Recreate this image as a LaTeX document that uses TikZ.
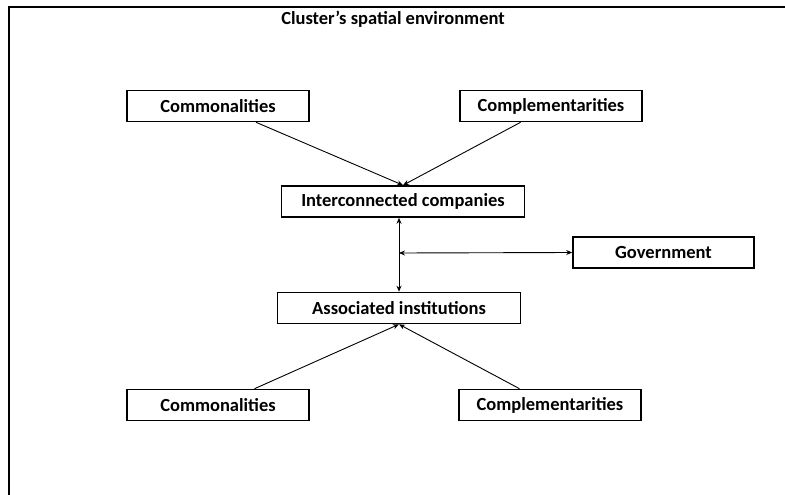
\documentclass[tikz,border=0pt]{standalone}
\usepackage{fontspec}
\setmainfont{Carlito}
\usetikzlibrary{arrows.meta, positioning}
\tikzset{
	factor/.style   ={rectangle, draw=black, line width=1.6pt, minimum width=182pt, minimum height=31pt, inner sep=0pt, align=center, font=\fontsize{18.5}{22}\selectfont\bfseries},
	actor/.style    ={factor, minimum width=243pt},
	link/.style     ={-{Stealth[length=6pt, width=5pt]}, line width=0.9pt},
	twoway/.style   ={{Stealth[length=6pt, width=5pt]}-{Stealth[length=6pt, width=5pt]}, line width=0.9pt},
}

\begin{document}
\begin{tikzpicture}[x=1pt, y=-1pt, font=\fontsize{18.5}{22}\selectfont]
	\useasboundingbox (0,0) rectangle (785,495);
	% frame of the spatial environment
	\draw[line width=2pt] (9,496) |- (786,7);
	\node (title) at (393,19) {\bfseries Cluster’s spatial environment};
	% upper factors
	\node[factor] (comTop) at (218,106) {Commonalities};
	\node[factor] (cmpTop) at (551,106) {Complementarities};
	% core of the cluster
	\node[actor] (ic) at (403,201.5) {Interconnected companies};
	\node[actor] (ai) at (399,308) {Associated institutions};
	\node[factor, minimum width=181pt] (gov) at (663.5,252.5) {Government};
	% lower factors
	\node[factor] (comBot) at (218,405) {Commonalities};
	\node[factor] (cmpBot) at (550,405) {Complementarities};
	\coordinate (hub) at (399,253);
	\draw[link] (comTop) -- (ic.north);
	\draw[link] (cmpTop) -- (ic.north);
	\draw[twoway] (ic.south -| hub) -- (ai.north -| hub);
	\draw[twoway] (hub) -- (gov.west);
	\draw[link] (comBot) -- (ai.south);
	\draw[link] (cmpBot) -- (ai.south);
\end{tikzpicture}
\end{document}
